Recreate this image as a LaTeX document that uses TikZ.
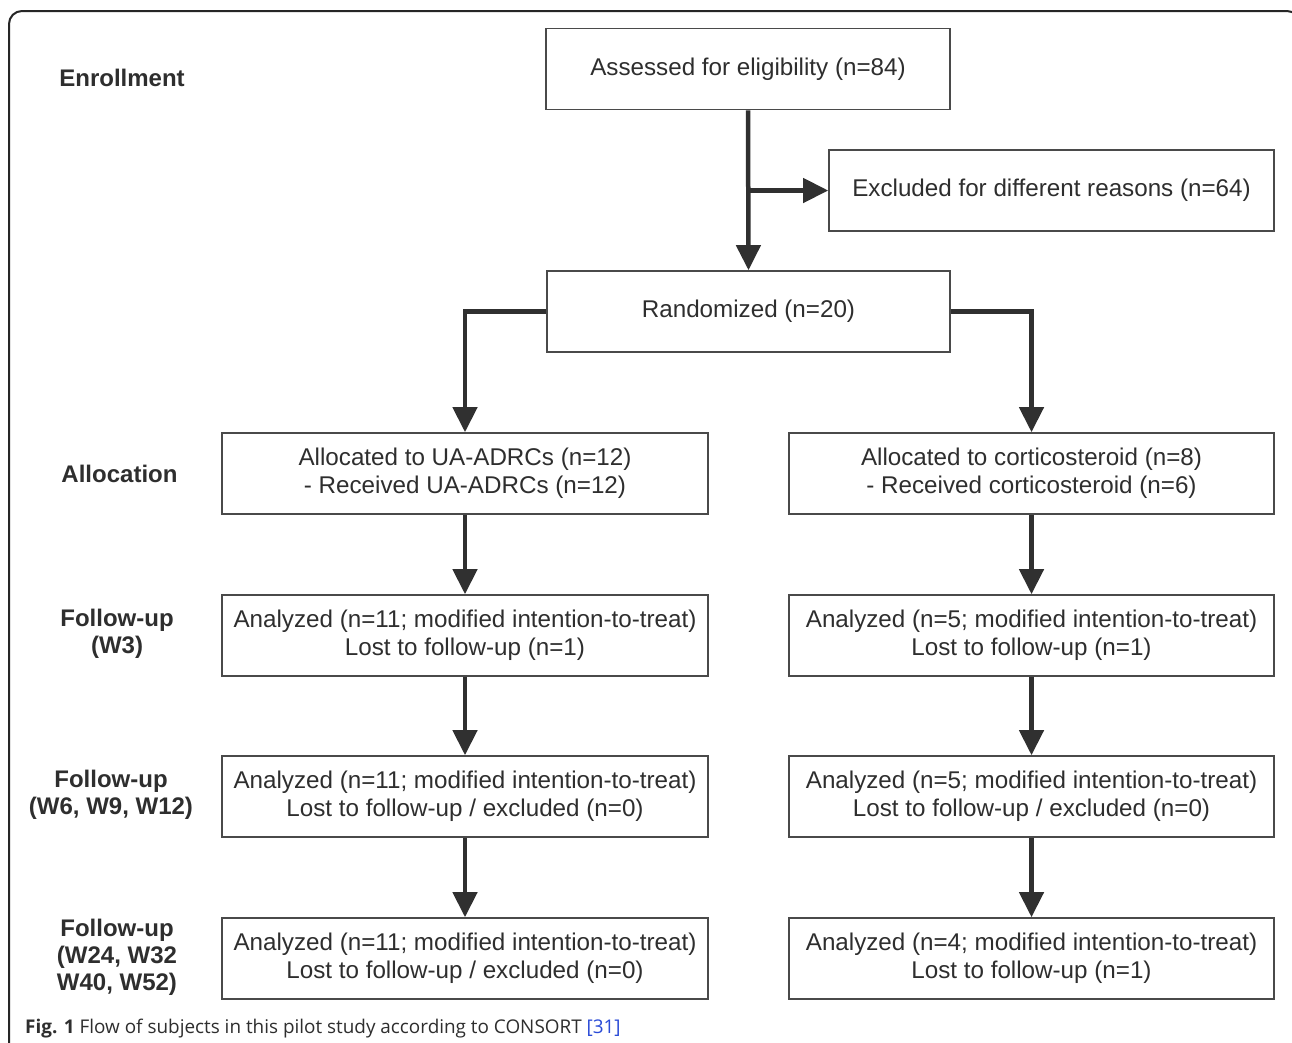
\documentclass[tikz,border=0pt]{standalone}
\usepackage{fontspec}
\setmainfont{Liberation Sans}
\newfontfamily\capfont{Open Sans}
\usetikzlibrary{arrows.meta}
\definecolor{txt}{HTML}{2E2E2E}
\definecolor{bord}{HTML}{4A4A4A}
\definecolor{arr}{HTML}{303030}
\definecolor{linkblue}{HTML}{2A4BD7}
\tikzset{
  flowbox/.style={draw=bord, line width=1.6pt, minimum height=81, inner sep=0pt, align=center, text=txt,
    font=\fontsize{24.2}{28}\selectfont},
  stagelabel/.style={align=center, text=txt, font=\fontsize{24}{27}\selectfont\bfseries, inner sep=0pt},
  flowarrow/.style={draw=arr, line width=4.5pt, -{Triangle[length=25,width=24]}},
}
\begin{document}
\begin{tikzpicture}[x=1pt,y=-1pt]
\useasboundingbox (0,0) rectangle (1292,1042);
\clip (0,0) rectangle (1292,1042);
\fill[white] (0,0) rectangle (1292,1042);
\draw[line width=2pt, draw=black!85, rounded corners=13] (9,11) rectangle (1300,1070);

\node[flowbox, minimum width=404] (a) at (748,69) {Assessed for eligibility (n=84)};
\node[flowbox, minimum width=445] (ex) at (1051.5,190.5) {Excluded for different reasons (n=64)};
\node[flowbox, minimum width=403] (r) at (748.5,311.5) {Randomized (n=20)};

\node[flowbox, minimum width=486] (al) at (465,473.5) {Allocated to UA-ADRCs (n=12)\\- Received UA-ADRCs (n=12)};
\node[flowbox, minimum width=485] (ar) at (1031.5,473.5) {Allocated to corticosteroid (n=8)\\- Received corticosteroid (n=6)};

\node[flowbox, minimum width=486] (fl1) at (465,635.5) {Analyzed (n=11; modified intention-to-treat)\\Lost to follow-up (n=1)};
\node[flowbox, minimum width=485] (fr1) at (1031.5,635.5) {Analyzed (n=5; modified intention-to-treat)\\Lost to follow-up (n=1)};

\node[flowbox, minimum width=486] (fl2) at (465,796.5) {Analyzed (n=11; modified intention-to-treat)\\Lost to follow-up / excluded (n=0)};
\node[flowbox, minimum width=485] (fr2) at (1031.5,796.5) {Analyzed (n=5; modified intention-to-treat)\\Lost to follow-up / excluded (n=0)};

\node[flowbox, minimum width=486] (fl3) at (465,958.5) {Analyzed (n=11; modified intention-to-treat)\\Lost to follow-up / excluded (n=0)};
\node[flowbox, minimum width=485] (fr3) at (1031.5,958.5) {Analyzed (n=4; modified intention-to-treat)\\Lost to follow-up (n=1)};

\node[stagelabel] (l1) at (122,78) {Enrollment};
\node[stagelabel] (l2) at (119.5,474) {Allocation};
\node[stagelabel] (l3) at (117,634) {Follow-up\\(W3)};
\node[stagelabel] (l4) at (111,795) {Follow-up\\(W6, W9, W12)};
\node[stagelabel] (l5) at (117,957) {Follow-up\\(W24, W32\\W40, W52)};

\coordinate (br) at (a.south |- ex.west);
\draw[flowarrow] (a.south) -- (r.north);
\draw[flowarrow] (br) -- (ex.west);
\draw[flowarrow] (r.west) -| (al.north);
\draw[flowarrow] (r.east) -| (ar.north);
\draw[flowarrow] (al) -- (fl1);
\draw[flowarrow] (fl1) -- (fl2);
\draw[flowarrow] (fl2) -- (fl3);
\draw[flowarrow] (ar) -- (fr1);
\draw[flowarrow] (fr1) -- (fr2);
\draw[flowarrow] (fr2) -- (fr3);

\node[anchor=base west, inner sep=0pt, text=txt, font=\capfont\fontsize{18.9}{22}\selectfont] (cap) at (25,1033)
  {\textbf{Fig. 1} Flow of subjects in this pilot study according to CONSORT {\color{linkblue}[31]}};
\end{tikzpicture}
\end{document}
